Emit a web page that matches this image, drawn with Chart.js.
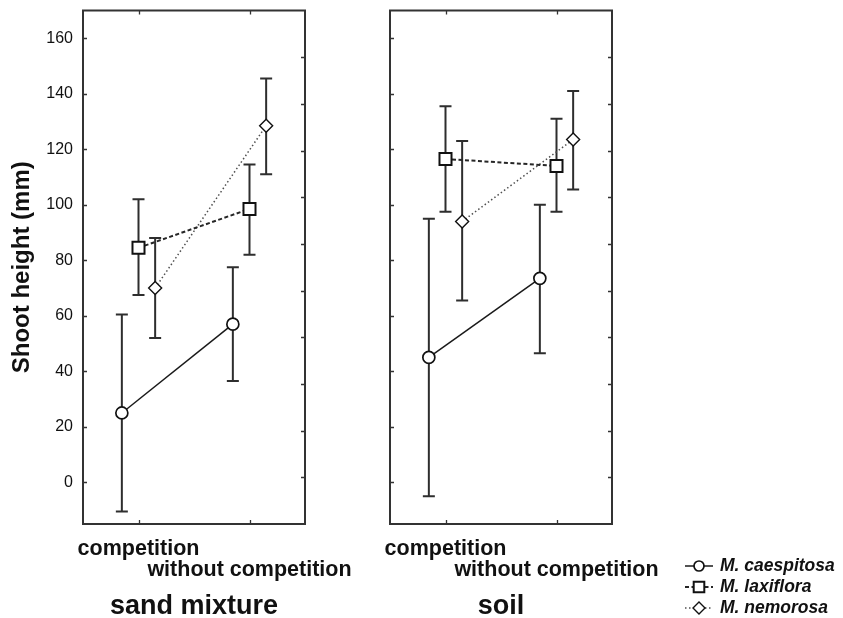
<!DOCTYPE html>
<html>
<head>
<meta charset="utf-8">
<title>Shoot height</title>
<script src="https://cdn.jsdelivr.net/npm/chart.js@4/dist/chart.umd.min.js"></script>
<style>
  html, body { margin: 0; padding: 0; background: #fff; }
  #wrap { position: relative; width: 843px; height: 618px; overflow: hidden; background: #fff; }
  canvas { position: absolute; top: 0; }
  #sand { left: 0; }
  #soil { left: 340px; }
</style>
</head>
<body>
<div id="wrap">
  <canvas id="sand" width="380" height="618" style="width:380px;height:618px"></canvas>
  <canvas id="soil" width="503" height="618" style="width:503px;height:618px"></canvas>
</div>
<script>
// Treatments (x categories), species and axis ticks
const categories = ['competition', 'without competition'];
const seriesNames = ['M. caespitosa', 'M. laxiflora', 'M. nemorosa'];
const panelTitles = ['sand mixture', 'soil'];
const yTicks = [0, 20, 40, 60, 80, 100, 120, 140, 160];
const secondaryTicks = [0, 20, 40, 60, 80, 100, 120, 140, 160, 180];

// Sand mixture: mean shoot height and error-bar limits (mm)
const sandCaespitosa = [25, 57];
const sandCaespitosaLow = [-10.5, 36.5];
const sandCaespitosaHigh = [60.5, 77.5];
const sandLaxiflora = [84.5, 98.5];
const sandLaxifloraLow = [67.5, 82];
const sandLaxifloraHigh = [102, 114.5];
const sandNemorosa = [70, 128.5];
const sandNemorosaLow = [52, 111];
const sandNemorosaHigh = [88, 145.5];

// Soil: mean shoot height and error-bar limits (mm)
const soilCaespitosa = [45, 73.5];
const soilCaespitosaLow = [-5, 46.5];
const soilCaespitosaHigh = [95, 100];
const soilLaxiflora = [116.5, 114];
const soilLaxifloraLow = [97.5, 97.5];
const soilLaxifloraHigh = [135.5, 131];
const soilNemorosa = [94, 123.5];
const soilNemorosaLow = [65.5, 105.5];
const soilNemorosaHigh = [123, 141];

Chart.defaults.font.family = "'Liberation Sans', Arial, Helvetica, sans-serif";
Chart.defaults.color = '#111';

// Line / marker look of each species and its sideways shift within a treatment
const seriesStyles = [
  { pointStyle: 'circle',  radius: 6,   legendRadius: 5,   lineWidth: 1.5, markerWidth: 1.7, dash: [],         color: '#1a1a1a', shift: -0.15 },
  { pointStyle: 'rect',    radius: 8.5, legendRadius: 7.5, lineWidth: 2,   markerWidth: 2,   dash: [4, 2.5],   color: '#262626', shift: 0 },
  { pointStyle: 'rectRot', radius: 6.5, legendRadius: 6,   lineWidth: 1.5, markerWidth: 1.4, dash: [1.5, 2.5], color: '#505050', shift: 0.15 }
];

function buildDatasets(means, lows, highs) {
  return means.map((m, s) => {
    const st = seriesStyles[s];
    return {
      label: seriesNames[s],
      data: m.map((v, i) => ({ x: i + 1 + st.shift, y: v })),
      errLow: lows[s],
      errHigh: highs[s],
      borderColor: st.color,
      borderWidth: st.lineWidth,
      borderDash: st.dash,
      pointStyle: st.pointStyle,
      pointRadius: st.radius,
      pointBorderWidth: st.markerWidth,
      pointBackgroundColor: '#ffffff',
      pointBorderColor: '#111111',
      fill: false,
      tension: 0
    };
  });
}

// Error bars behind the markers, then the frame with inward tick marks
const framePlugin = {
  id: 'frame',
  beforeDatasetsDraw(chart) {
    const { ctx, scales } = chart;
    ctx.save();
    ctx.strokeStyle = '#2e2e2e';
    ctx.lineWidth = 2;
    chart.data.datasets.forEach(ds => {
      ds.data.forEach((pt, j) => {
        const x = scales.x.getPixelForValue(pt.x);
        const yLo = scales.y.getPixelForValue(ds.errLow[j]);
        const yHi = scales.y.getPixelForValue(ds.errHigh[j]);
        ctx.beginPath();
        ctx.moveTo(x, yLo); ctx.lineTo(x, yHi);
        ctx.moveTo(x - 6, yLo); ctx.lineTo(x + 6, yLo);
        ctx.moveTo(x - 6, yHi); ctx.lineTo(x + 6, yHi);
        ctx.stroke();
      });
    });
    ctx.restore();
  },
  afterDraw(chart) {
    const { ctx, chartArea: a, scales } = chart;
    const len = 4;
    ctx.save();
    ctx.strokeStyle = '#333';
    ctx.lineWidth = 1.3;
    ctx.beginPath();
    scales.y.ticks.forEach(t => {
      const y = Math.round(scales.y.getPixelForValue(t.value)) + 0.5;
      ctx.moveTo(a.left, y); ctx.lineTo(a.left + len, y);
    });
    scales.y2.ticks.forEach(t => {
      const y = Math.round(scales.y2.getPixelForValue(t.value)) + 0.5;
      ctx.moveTo(a.right, y); ctx.lineTo(a.right - len, y);
    });
    scales.x.ticks.forEach(t => {
      const x = Math.round(scales.x.getPixelForValue(t.value)) + 0.5;
      ctx.moveTo(x, a.top); ctx.lineTo(x, a.top + len);
      ctx.moveTo(x, a.bottom); ctx.lineTo(x, a.bottom - len);
    });
    ctx.stroke();
    ctx.lineWidth = 2;
    ctx.strokeStyle = '#333';
    ctx.strokeRect(a.left, a.top, a.right - a.left, a.bottom - a.top);
    ctx.restore();
  }
};

// Species key: line sample, marker and italic name
const legendPlugin = {
  id: 'seriesLegend',
  afterDraw(chart, args, opts) {
    const ctx = chart.ctx;
    chart.data.datasets.forEach((ds, i) => {
      const st = seriesStyles[i];
      const y = opts.top + i * opts.rowGap;
      const cx = opts.x + opts.lineLen / 2;
      ctx.save();
      ctx.strokeStyle = ds.borderColor;
      ctx.lineWidth = ds.borderWidth;
      ctx.setLineDash(ds.borderDash);
      ctx.beginPath();
      ctx.moveTo(opts.x, y); ctx.lineTo(opts.x + opts.lineLen, y);
      ctx.stroke();
      ctx.setLineDash([]);
      ctx.fillStyle = '#ffffff';
      ctx.strokeStyle = ds.pointBorderColor;
      ctx.lineWidth = ds.pointBorderWidth;
      Chart.helpers.drawPoint(ctx, {
        pointStyle: ds.pointStyle, radius: st.legendRadius,
        borderWidth: ds.pointBorderWidth, rotation: 0
      }, cx, y);
      ctx.font = "italic bold 17.5px 'Liberation Sans', Arial, sans-serif";
      ctx.fillStyle = '#111';
      ctx.textAlign = 'left';
      ctx.textBaseline = 'middle';
      ctx.fillText(ds.label, opts.x + opts.lineLen + 7, y);
      ctx.restore();
    });
  }
};

function chartOptions(showY, yWidth, rightPad, title, extraPlugins) {
  return {
    responsive: false,
    animation: false,
    events: [],
    layout: { padding: { top: 7, right: rightPad, bottom: 0, left: 0 } },
    plugins: Object.assign({ legend: { display: false }, tooltip: { enabled: false } }, extraPlugins || {}),
    scales: {
      x: {
        type: 'linear', min: 0.5, max: 2.5,
        afterBuildTicks: s => { s.ticks = categories.map((c, i) => ({ value: i + 1 })); },
        afterFit: s => { s.height = 94; s.paddingLeft = 0; s.paddingRight = 0; },
        grid: { display: false, drawTicks: false },
        border: { display: false },
        ticks: {
          padding: 14, autoSkip: false, maxRotation: 0, minRotation: 0,
          font: { size: 21.5, weight: 'bold', lineHeight: 1 },
          color: '#111',
          callback: v => {
            const i = Math.round(v) - 1;
            return i % 2 === 0 ? [categories[i], ''] : ['', categories[i]];
          }
        },
        title: {
          display: true, text: title,
          font: { size: 27, weight: 'bold', lineHeight: 0.85 },
          padding: { top: 0, bottom: 0 }, color: '#111'
        }
      },
      y: {
        type: 'linear', position: 'left', min: -15, max: 170,
        afterBuildTicks: s => { s.ticks = yTicks.map(v => ({ value: v })); },
        afterFit: s => { s.width = yWidth; s.paddingTop = 0; s.paddingBottom = 0; },
        grid: { display: false, drawTicks: false },
        border: { display: false },
        ticks: { display: showY, padding: 10, font: { size: 16 }, color: '#111' },
        title: {
          display: showY, text: 'Shoot height (mm)',
          font: { size: 24, weight: 'bold', lineHeight: 1 },
          padding: { top: 10, bottom: 0 }, color: '#111'
        }
      },
      y2: {
        type: 'linear', position: 'right', min: -20, max: 200,
        afterBuildTicks: s => { s.ticks = secondaryTicks.map(v => ({ value: v })); },
        afterFit: s => { s.width = 0; s.paddingTop = 0; s.paddingBottom = 0; },
        grid: { display: false, drawTicks: false },
        border: { display: false },
        ticks: { display: false }
      }
    }
  };
}

new Chart(document.getElementById('sand'), {
  type: 'line',
  data: {
    datasets: buildDatasets(
      [sandCaespitosa, sandLaxiflora, sandNemorosa],
      [sandCaespitosaLow, sandLaxifloraLow, sandNemorosaLow],
      [sandCaespitosaHigh, sandLaxifloraHigh, sandNemorosaHigh]
    )
  },
  options: chartOptions(true, 83, 75, panelTitles[0]),
  plugins: [framePlugin]
});

new Chart(document.getElementById('soil'), {
  type: 'line',
  data: {
    datasets: buildDatasets(
      [soilCaespitosa, soilLaxiflora, soilNemorosa],
      [soilCaespitosaLow, soilLaxifloraLow, soilNemorosaLow],
      [soilCaespitosaHigh, soilLaxifloraHigh, soilNemorosaHigh]
    )
  },
  options: chartOptions(false, 50, 231, panelTitles[1], {
    seriesLegend: { x: 345, top: 566, rowGap: 21, lineLen: 28 }
  }),
  plugins: [framePlugin, legendPlugin]
});
</script>
</body>
</html>
